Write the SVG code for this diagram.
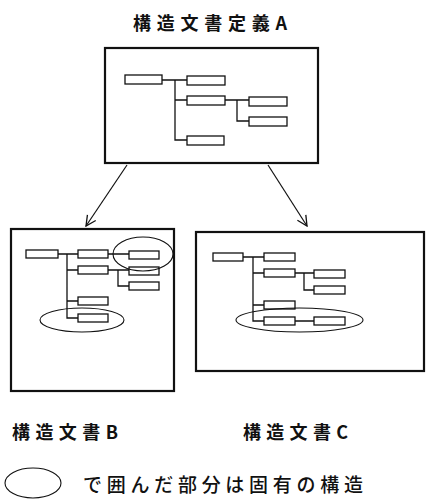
<svg xmlns="http://www.w3.org/2000/svg" width="426" height="500" viewBox="0 0 426 500">
  <defs>
    <style>
      .frame { fill: #fff; stroke: #111; stroke-width: 2.2; }
      .node { fill: #fff; stroke: #111; stroke-width: 1.3; }
      .link { fill: none; stroke: #111; stroke-width: 1.3; }
      .ring { fill: none; stroke: #111; stroke-width: 1.1; }
      .arrow { fill: none; stroke: #111; stroke-width: 1.2; }
      .label { font-family: "Noto Sans CJK JP", "Noto Sans CJK SC", sans-serif; fill: #111; font-weight: 700; }
      .note { font-family: "Noto Sans CJK JP", "Noto Sans CJK SC", sans-serif; fill: #111; font-weight: 500; }
    </style>
    <marker id="openHead" viewBox="0 0 12 12" refX="11" refY="6" markerWidth="12" markerHeight="12" markerUnits="userSpaceOnUse" orient="auto">
      <path d="M1,1 L11,6 L1,11" fill="none" stroke="#111" stroke-width="1.3"/>
    </marker>
  </defs>

  <rect width="426" height="500" fill="#fff"/>

  <!-- titles -->
  <text class="label" x="133" y="30" font-size="18" textLength="154" lengthAdjust="spacing">構造文書定義A</text>
  <text class="label" x="12" y="439" font-size="18" textLength="106" lengthAdjust="spacing">構造文書B</text>
  <text class="label" x="243" y="439" font-size="18" textLength="105" lengthAdjust="spacing">構造文書C</text>

  <!-- definition A -->
  <g id="docA">
    <rect class="frame" x="105" y="48" width="213" height="115"/>
    <g class="link">
      <path d="M162,80 H187 M175,80 V140 H187 M175,100 H187 M225,100 H249 M237,100 V121 H249"/>
    </g>
    <rect class="node" x="125" y="75" width="37" height="9"/>
    <rect class="node" x="187" y="76" width="38" height="9"/>
    <rect class="node" x="187" y="96" width="38" height="9"/>
    <rect class="node" x="249" y="97" width="38" height="9"/>
    <rect class="node" x="249" y="117" width="38" height="9"/>
    <rect class="node" x="187" y="136" width="37" height="9"/>
  </g>

  <!-- derivation arrows -->
  <g id="connectors">
    <line class="arrow" x1="127" y1="165" x2="86" y2="226" marker-end="url(#openHead)"/>
    <line class="arrow" x1="268" y1="165" x2="307" y2="226" marker-end="url(#openHead)"/>
  </g>

  <!-- document B -->
  <g id="docB">
    <rect class="frame" x="11" y="229" width="163" height="162"/>
    <g class="link">
      <path d="M58,254 H78 M67,254 V318 H78 M67,270 H78 M67,301 H78 M108,254 H129 M108,270 H129 M118,270 V286 H129"/>
    </g>
    <rect class="node" x="26" y="250" width="32" height="8"/>
    <rect class="node" x="78" y="250" width="30" height="8"/>
    <rect class="node" x="129" y="251" width="30" height="8"/>
    <rect class="node" x="78" y="266" width="30" height="8"/>
    <rect class="node" x="129" y="267" width="30" height="8"/>
    <rect class="node" x="129" y="282" width="30" height="8"/>
    <rect class="node" x="78" y="297" width="30" height="8"/>
    <rect class="node" x="78" y="314" width="30" height="8"/>
    <ellipse class="ring" cx="143" cy="254" rx="30" ry="17"/>
    <ellipse class="ring" cx="82" cy="320" rx="42" ry="12"/>
  </g>

  <!-- document C -->
  <g id="docC">
    <rect class="frame" x="196" y="232" width="228" height="139"/>
    <g class="link">
      <path d="M243,257 H264 M253,257 V321 H264 M253,273 H264 M253,305 H264 M295,273 H314 M304,273 V290 H314 M295,321 H314"/>
    </g>
    <rect class="node" x="213" y="253" width="30" height="8"/>
    <rect class="node" x="264" y="253" width="31" height="8"/>
    <rect class="node" x="264" y="269" width="31" height="8"/>
    <rect class="node" x="314" y="270" width="31" height="8"/>
    <rect class="node" x="314" y="286" width="31" height="8"/>
    <rect class="node" x="264" y="301" width="31" height="8"/>
    <rect class="node" x="264" y="317" width="31" height="8"/>
    <rect class="node" x="314" y="317" width="31" height="8"/>
    <ellipse class="ring" cx="299.5" cy="320" rx="63.5" ry="12"/>
  </g>

  <!-- legend -->
  <g id="legend">
    <ellipse class="ring" cx="33" cy="483" rx="28" ry="15"/>
    <text class="note" x="83" y="492" font-size="19" textLength="280" lengthAdjust="spacing">で囲んだ部分は固有の構造</text>
  </g>
</svg>
